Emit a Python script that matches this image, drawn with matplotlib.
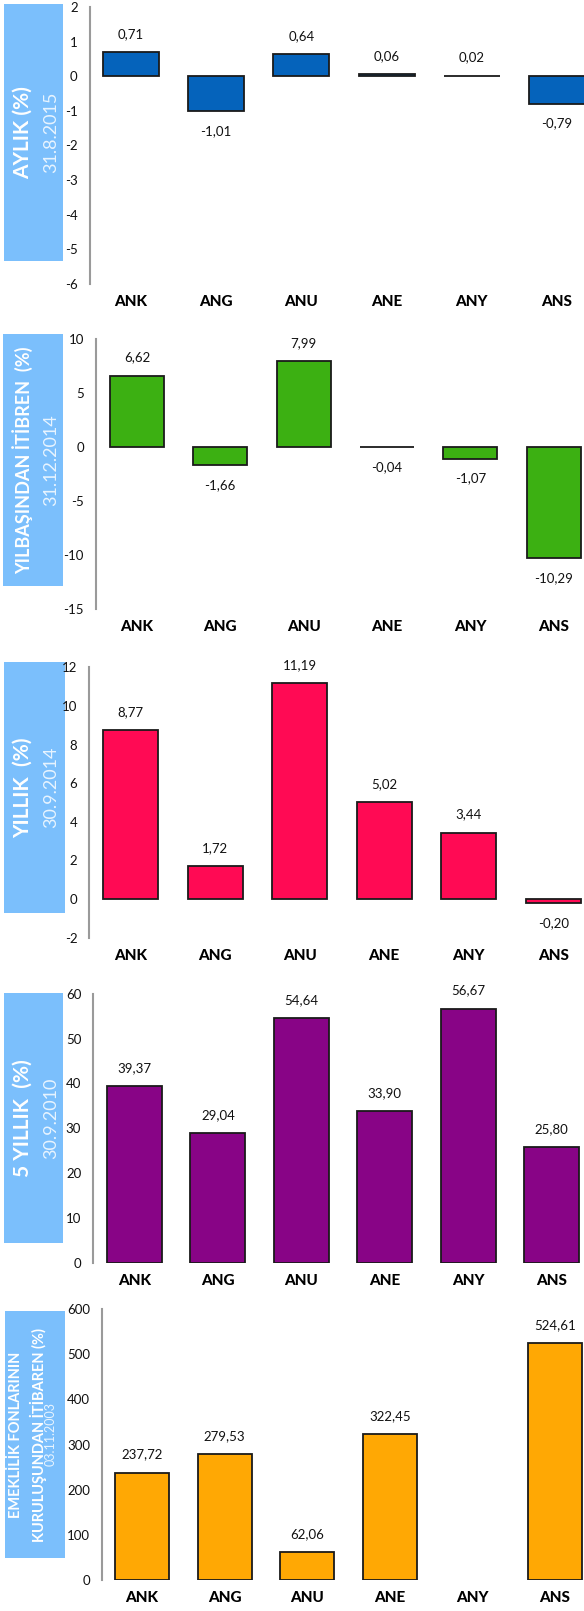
import numpy as np
import matplotlib.pyplot as plt
from matplotlib.patches import Rectangle

W, H = 584, 1611
plt.rcParams['font.family'] = ['Lato', 'DejaVu Sans']

# data
categories = ['ANK', 'ANG', 'ANU', 'ANE', 'ANY', 'ANS']
aylik = [0.71, -1.01, 0.64, 0.06, 0.02, -0.79]
yilbasi = [6.62, -1.66, 7.99, -0.04, -1.07, -10.29]
yillik = [8.77, 1.72, 11.19, 5.02, 3.44, -0.20]
bes_yillik = [39.37, 29.04, 54.64, 33.90, 56.67, 25.80]
kurulus = [237.72, 279.53, 62.06, 322.45, np.nan, 524.61]

titles = ['AYLIK (%)', 'YILBAŞINDAN İTİBREN  (%)', 'YILLIK  (%)', '5 YILLIK  (%)',
          'EMEKLİLİK FONLARININ\nKURULUŞUNDAN İTİBAREN (%)']
dates = ['31.8.2015', '31.12.2014', '30.9.2014', '30.9.2010', '03.11.2003']
yticks = [np.arange(-6, 3, 1), np.arange(-15, 11, 5), np.arange(-2, 13, 2),
          np.arange(0, 61, 10), np.arange(0, 601, 100)]
colors = ['#0563BB', '#3CB012', '#FF0A54', '#880486', '#FFA804']
series = [aylik, yilbasi, yillik, bes_yillik, kurulus]

# layout in pixels: axis x, first bar center, spacing, bar width, top px, bottom px, box
layout = [
    (89.5, 131, 85.2, 56, 7, 284, (4, 4, 63, 261), 15, 13),
    (95.7, 137, 83.3, 54, 339, 609, (3, 334, 63, 586), 13, 13),
    (89.3, 130.7, 84.5, 55, 667.3, 937.7, (4, 662, 64.7, 913), 15, 13),
    (93, 134.5, 83.4, 55, 993.7, 1263, (4, 993, 63, 1243), 15, 13),
    (101.7, 142, 82.6, 54, 1309, 1580, (5, 1311, 65, 1558), 10.5, 9),
]

fig = plt.figure(figsize=(W / 100, H / 100), dpi=100)

for k in range(5):
    xa, c0, s, w, ytop, ybot, box, tsize, dsize = layout[k]
    right = 630
    ax = fig.add_axes([xa / W, 1 - ybot / H, (right - xa) / W, (ybot - ytop) / H])
    ax.set_facecolor('none')
    vals = np.array(series[k], dtype=float)
    x = np.arange(len(categories))
    ok = ~np.isnan(vals)
    ax.bar(x[ok], vals[ok], width=w / s, color=colors[k], edgecolor='#1a1a1a',
           linewidth=1.3, zorder=3)
    for i, v in enumerate(vals):
        if np.isnan(v):
            continue
        off = 18 if v >= 0 else -20
        ax.annotate(f'{v:.2f}'.replace('.', ','), (i, v), xytext=(0, off),
                    textcoords='offset pixels', ha='center', va='center',
                    fontsize=9.5, color='#111111')
    ax.set_xlim((xa - c0) / s, (right - c0) / s)
    ax.set_ylim(yticks[k][0], yticks[k][-1])
    ax.set_yticks(yticks[k])
    ax.set_yticklabels([str(t) for t in yticks[k]])
    ax.set_xticks(x)
    ax.set_xticklabels(categories, fontweight='black', fontsize=11)
    ax.tick_params(axis='x', length=0, pad=8)
    ax.tick_params(axis='y', length=0, pad=8.5, labelsize=9.5, labelcolor='#111111')
    for sp in ['top', 'right', 'bottom']:
        ax.spines[sp].set_visible(False)
    ax.spines['left'].set_color('#9a9a9a')
    ax.spines['left'].set_linewidth(1.5)

    # label box on the left
    bx0, by0, bx1, by1 = box
    fig.add_artist(Rectangle((bx0 / W, 1 - by1 / H), (bx1 - bx0) / W, (by1 - by0) / H,
                             transform=fig.transFigure, facecolor='#7BBFFC',
                             edgecolor='none', zorder=-1))
    cy = 1 - (by0 + by1) / 2 / H
    if k < 4:
        fig.text(23 / W, cy, titles[k], rotation=90, ha='center', va='center',
                 color='white', fontweight='bold', fontsize=tsize)
        fig.text(51 / W, cy, dates[k], rotation=90, ha='center', va='center',
                 color='#E8F4FF', fontweight='normal', fontsize=dsize)
    else:
        fig.text(28 / W, cy, titles[k], rotation=90, ha='center', va='center',
                 color='white', fontweight='bold', fontsize=tsize, linespacing=1.45,
                 multialignment='center')
        fig.text(51 / W, cy, dates[k], rotation=90, ha='center', va='center',
                 color='#E8F4FF', fontweight='normal', fontsize=dsize)

fig.savefig('out.png', dpi=100)
